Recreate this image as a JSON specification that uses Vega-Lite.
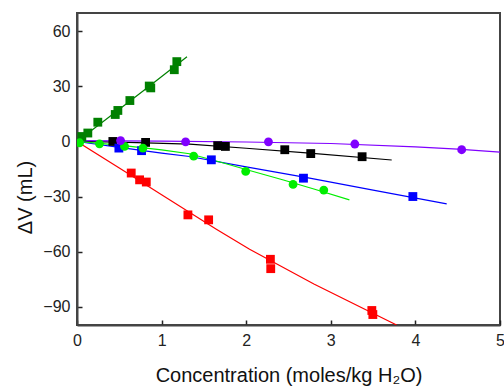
{
  "$schema": "https://vega.github.io/schema/vega-lite/v6.json",
  "width": 423,
  "height": 312,
  "autosize": "none",
  "padding": {"left": 77, "top": 13, "right": 4, "bottom": 63},
  "background": "white",
  "config": {
    "view": {"stroke": "#444", "strokeWidth": 2},
    "font": "Liberation Sans",
    "axis": {
      "grid": false,
      "domainColor": "#444",
      "domainWidth": 2,
      "tickColor": "#222",
      "tickWidth": 1.5,
      "tickSize": -5,
      "labelFont": "Liberation Sans",
      "labelFontSize": 16,
      "labelColor": "#222",
      "titleFont": "Liberation Sans",
      "titleFontSize": 20,
      "titleFontWeight": "normal",
      "titleColor": "#111"
    }
  },
  "datasets": {
    "pts": [
      {"series": "S1", "x": 0.641, "y": -17.2},
      {"series": "S1", "x": 0.740, "y": -20.9},
      {"series": "S1", "x": 0.819, "y": -22.1},
      {"series": "S1", "x": 1.311, "y": -40.0},
      {"series": "S1", "x": 1.556, "y": -42.7},
      {"series": "S1", "x": 2.286, "y": -64.2},
      {"series": "S1", "x": 2.290, "y": -69.3},
      {"series": "S1", "x": 3.485, "y": -92.1},
      {"series": "S1", "x": 3.497, "y": -94.3},
      {"series": "S2", "x": 0.057, "y": 2.7},
      {"series": "S2", "x": 0.128, "y": 4.6},
      {"series": "S2", "x": 0.246, "y": 10.5},
      {"series": "S2", "x": 0.452, "y": 14.7},
      {"series": "S2", "x": 0.483, "y": 16.9},
      {"series": "S2", "x": 0.625, "y": 22.3},
      {"series": "S2", "x": 0.854, "y": 30.2},
      {"series": "S2", "x": 0.872, "y": 29.2},
      {"series": "S2", "x": 1.150, "y": 39.1},
      {"series": "S2", "x": 1.180, "y": 43.5},
      {"series": "S3", "x": 0.424, "y": 0.0},
      {"series": "S3", "x": 0.811, "y": -0.5},
      {"series": "S3", "x": 1.663, "y": -2.3},
      {"series": "S3", "x": 1.754, "y": -2.7},
      {"series": "S3", "x": 2.456, "y": -4.5},
      {"series": "S3", "x": 2.763, "y": -6.6},
      {"series": "S3", "x": 3.370, "y": -8.3},
      {"series": "S4", "x": 0.495, "y": -3.6},
      {"series": "S4", "x": 0.763, "y": -5.0},
      {"series": "S4", "x": 1.588, "y": -10.0},
      {"series": "S4", "x": 2.677, "y": -20.0},
      {"series": "S4", "x": 3.970, "y": -30.0},
      {"series": "S5", "x": 0.030, "y": -0.7},
      {"series": "S5", "x": 0.266, "y": -1.3},
      {"series": "S5", "x": 0.562, "y": -2.7},
      {"series": "S5", "x": 0.779, "y": -3.6},
      {"series": "S5", "x": 1.379, "y": -8.0},
      {"series": "S5", "x": 1.994, "y": -16.3},
      {"series": "S5", "x": 2.554, "y": -23.4},
      {"series": "S5", "x": 2.917, "y": -26.5},
      {"series": "S6", "x": 0.515, "y": 0.5},
      {"series": "S6", "x": 1.284, "y": -0.2},
      {"series": "S6", "x": 2.263, "y": -0.2},
      {"series": "S6", "x": 3.284, "y": -1.4},
      {"series": "S6", "x": 4.547, "y": -4.5}
    ],
    "fit": [
      {"series": "S1", "x": 0, "y": 0},
      {"series": "S1", "x": 0.5, "y": -14.5},
      {"series": "S1", "x": 1.0, "y": -29.0},
      {"series": "S1", "x": 1.647, "y": -47.8},
      {"series": "S1", "x": 2.04, "y": -58.7},
      {"series": "S1", "x": 2.8, "y": -77.7},
      {"series": "S1", "x": 3.778, "y": -100},
      {"series": "S2", "x": 0, "y": 0},
      {"series": "S2", "x": 0.5, "y": 17.6},
      {"series": "S2", "x": 0.85, "y": 30.0},
      {"series": "S2", "x": 1.30, "y": 46.2},
      {"series": "S3", "x": 0, "y": 0},
      {"series": "S3", "x": 0.5, "y": -0.4},
      {"series": "S3", "x": 1.33, "y": -1.4},
      {"series": "S3", "x": 2.0, "y": -3.7},
      {"series": "S3", "x": 2.75, "y": -6.3},
      {"series": "S3", "x": 3.72, "y": -10.1},
      {"series": "S4", "x": 0, "y": 0},
      {"series": "S4", "x": 0.5, "y": -3.2},
      {"series": "S4", "x": 1.0, "y": -6.3},
      {"series": "S4", "x": 1.33, "y": -8.2},
      {"series": "S4", "x": 2.0, "y": -13.8},
      {"series": "S4", "x": 2.75, "y": -20.0},
      {"series": "S4", "x": 3.5, "y": -26.5},
      {"series": "S4", "x": 4.37, "y": -34.0},
      {"series": "S5", "x": 0, "y": 0},
      {"series": "S5", "x": 0.5, "y": -2.0},
      {"series": "S5", "x": 1.0, "y": -4.6},
      {"series": "S5", "x": 1.33, "y": -6.7},
      {"series": "S5", "x": 1.7, "y": -11.3},
      {"series": "S5", "x": 2.04, "y": -15.8},
      {"series": "S5", "x": 2.44, "y": -21.0},
      {"series": "S5", "x": 2.8, "y": -25.9},
      {"series": "S5", "x": 3.22, "y": -31.8},
      {"series": "S6", "x": 0, "y": 0.5},
      {"series": "S6", "x": 1.0, "y": 0.2},
      {"series": "S6", "x": 2.0, "y": -0.3},
      {"series": "S6", "x": 3.0, "y": -1.1},
      {"series": "S6", "x": 4.0, "y": -2.9},
      {"series": "S6", "x": 4.5, "y": -4.2},
      {"series": "S6", "x": 5.0, "y": -5.8}
    ]
  },
  "encoding": {
    "x": {
      "field": "x", "type": "quantitative",
      "scale": {"domain": [0, 5], "nice": false, "zero": false},
      "axis": {"values": [0, 1, 2, 3, 4, 5], "title": "Concentration (moles/kg H₂O)", "labelPadding": 12, "titleY": 56, "titleBaseline": "alphabetic", "labelFlush": false}
    },
    "y": {
      "field": "y", "type": "quantitative",
      "scale": {"domain": [-100, 70], "nice": false, "zero": false},
      "axis": {"values": [60, 30, 0, -30, -60, -90], "title": "ΔV (mL)", "labelPadding": 12, "titleX": -52, "titleY": 184, "titleBaseline": "middle", "titleAlign": "center", "titleAngle": -90}
    },
    "color": {
      "field": "series", "type": "nominal", "legend": null,
      "scale": {"domain": ["S1", "S2", "S3", "S4", "S5", "S6"], "range": ["#ff0000", "#008000", "#000000", "#0000ff", "#00ee00", "#8000ff"]}
    }
  },
  "layer": [
    {
      "data": {"name": "fit"},
      "mark": {"type": "line", "strokeWidth": 1.2, "clip": true},
      "encoding": {"detail": {"field": "series"}}
    },
    {
      "data": {"name": "pts"},
      "mark": {"type": "point", "filled": true, "opacity": 1, "clip": true},
      "encoding": {
        "shape": {
          "field": "series", "type": "nominal", "legend": null,
          "scale": {"domain": ["S1", "S2", "S3", "S4", "S5", "S6"], "range": ["square", "square", "square", "square", "circle", "circle"]}
        },
        "size": {
          "field": "series", "type": "nominal", "legend": null,
          "scale": {"domain": ["S1", "S2", "S3", "S4", "S5", "S6"], "range": [78, 78, 78, 78, 70, 70]}
        }
      }
    }
  ]
}
